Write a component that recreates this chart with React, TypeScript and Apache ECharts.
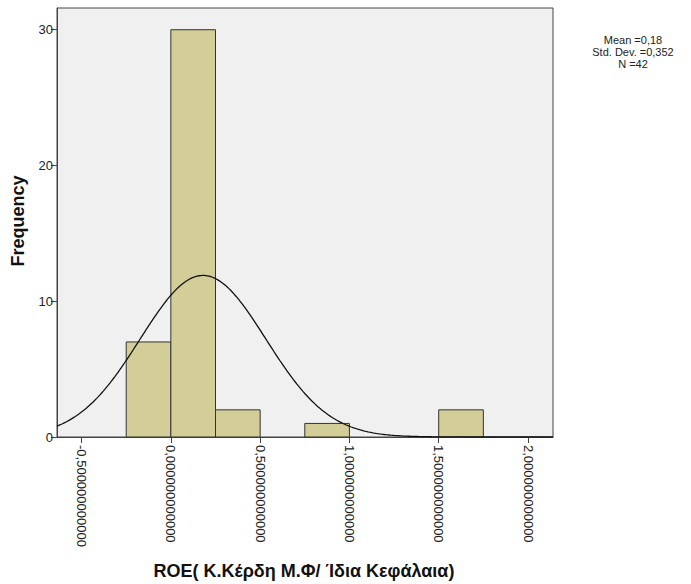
import React, { useEffect, useRef } from "react";
import * as echarts from "echarts";

// Histogram bins: [start, end, frequency]
const binStarts = [-0.25, 0.0, 0.25, 0.75, 1.5];
const binEnds = [0.0, 0.25, 0.5, 1.0, 1.75];
const binCounts = [7, 30, 2, 1, 2];

const xTicks = [-0.5, 0, 0.5, 1.0, 1.5, 2.0];
const yTicks = [0, 10, 20, 30];

const MEAN = 0.18;
const SD = 0.352;
const N = 42;
const BIN_WIDTH = 0.25;

const X_MIN = -0.6376;
const X_MAX = 2.14;
const Y_MAX = 31.6;

const statLines = ["Mean =0,18", "Std. Dev. =0,352", "N =42"];
const xTitle = "ROE( Κ.Κέρδη Μ.Φ/ Ίδια Κεφάλαια)";
const yTitle = "Frequency";

const FONT = "'Liberation Sans', Arial, sans-serif";

function normalCurve(): number[][] {
  const pts: number[][] = [];
  const steps = 300;
  for (let i = 0; i <= steps; i++) {
    const x = X_MIN + ((X_MAX - X_MIN) * i) / steps;
    const z = (x - MEAN) / SD;
    const y = (N * BIN_WIDTH) / (SD * Math.sqrt(2 * Math.PI)) * Math.exp(-0.5 * z * z);
    pts.push([x, y]);
  }
  return pts;
}

export default function App() {
  const ref = useRef<HTMLDivElement>(null);
  useEffect(() => {
    if (!ref.current) return;
    const chart = echarts.init(ref.current, undefined, { renderer: "svg" });
    const binData = binStarts.map((s, i) => [s, binEnds[i], binCounts[i]]);
    chart.setOption({
      animation: false,
      backgroundColor: "#ffffff",
      grid: {
        left: 57,
        top: 8,
        right: 138,
        bottom: 147,
        show: true,
        backgroundColor: "#f0f0f0",
        borderColor: "#444",
        borderWidth: 1,
      },
      xAxis: {
        type: "value",
        min: X_MIN,
        max: X_MAX,
        axisLine: { show: true, onZero: false, lineStyle: { color: "#444", width: 1 } },
        axisTick: { show: true, customValues: xTicks, length: 6, lineStyle: { color: "#444" } },
        axisLabel: {
          customValues: xTicks,
          rotate: -90,
          margin: 8,
          fontSize: 13,
          fontFamily: FONT,
          color: "#222",
          formatter: (v: number) => v.toFixed(12).replace(".", ","),
        },
        splitLine: { show: false },
      },
      yAxis: {
        type: "value",
        min: 0,
        max: Y_MAX,
        axisLine: { show: true, onZero: false, lineStyle: { color: "#444", width: 1 } },
        axisTick: { show: true, customValues: yTicks, length: 6, lineStyle: { color: "#444" } },
        axisLabel: {
          customValues: yTicks,
          margin: 4,
          fontSize: 13,
          fontFamily: FONT,
          color: "#222",
        },
        splitLine: { show: false },
      },
      series: [
        {
          type: "custom",
          data: binData,
          encode: { x: [0, 1], y: 2 },
          renderItem: (params: any, api: any) => {
            const s = api.value(0);
            const e = api.value(1);
            const c = api.value(2);
            const p0 = api.coord([s, 0]);
            const p1 = api.coord([e, c]);
            return {
              type: "rect",
              shape: { x: p0[0], y: p1[1], width: p1[0] - p0[0], height: p0[1] - p1[1] },
              style: { fill: "#d3ce97", stroke: "#333", lineWidth: 1 },
            };
          },
          z: 2,
        },
        {
          type: "line",
          data: normalCurve(),
          showSymbol: false,
          symbol: "none",
          lineStyle: { color: "#111", width: 1.3 },
          z: 3,
        },
      ],
      graphic: [
        {
          type: "text",
          x: 18,
          y: 221,
          rotation: Math.PI / 2,
          style: {
            text: yTitle,
            font: `bold 18px ${FONT}`,
            fill: "#111",
            align: "center",
            verticalAlign: "middle",
          },
        },
        {
          type: "text",
          x: 304,
          y: 571,
          style: {
            text: xTitle,
            font: `bold 18px ${FONT}`,
            fill: "#111",
            align: "center",
            verticalAlign: "middle",
          },
        },
        ...statLines.map((t, i) => ({
          type: "text",
          x: 633,
          y: 40 + i * 12,
          style: {
            text: t,
            font: `11px ${FONT}`,
            fill: "#222",
            align: "center",
            verticalAlign: "middle",
          },
        })),
      ],
    });
    return () => chart.dispose();
  }, []);
  return (
    <div
      ref={ref}
      style={{ position: "absolute", left: 0, top: 0, width: 691, height: 584 }}
    />
  );
}
